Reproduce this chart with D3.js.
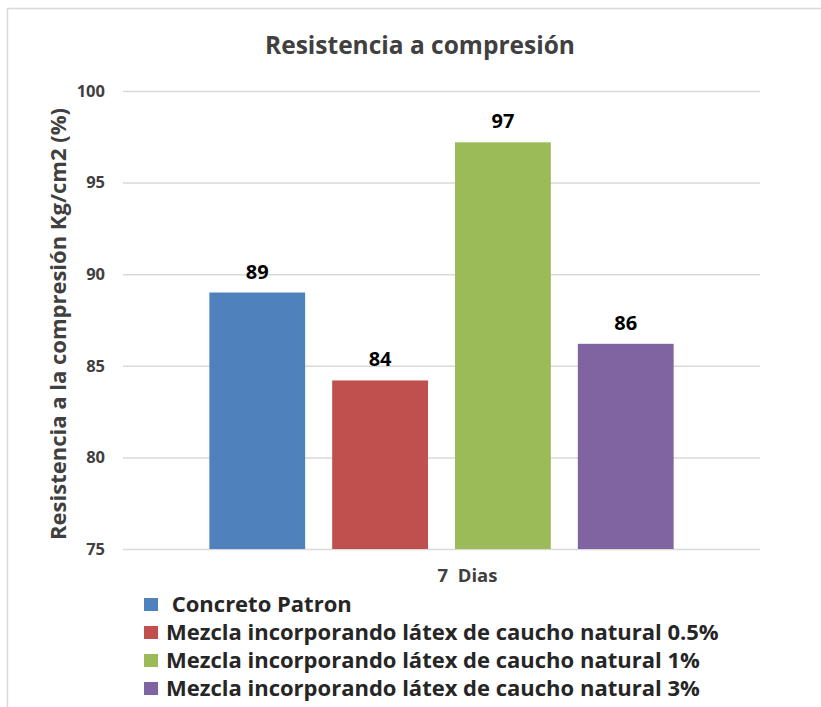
<!DOCTYPE html>
<html>
<head>
<meta charset="utf-8">
<script src="https://cdn.jsdelivr.net/npm/d3@7"></script>
<style>
  body { margin: 0; background: #fff; }
  svg text { font-family: "Open Sans", Lato, sans-serif; }
</style>
</head>
<body>
<div id="chart"></div>
<script>
// data
const categories = ['7  Dias']
const seriesNames = [
  ' Concreto Patron',
  'Mezcla incorporando látex de caucho natural 0.5%',
  'Mezcla incorporando látex de caucho natural 1%',
  'Mezcla incorporando látex de caucho natural 3%'
]
const seriesValues = [89.0, 84.2, 97.2, 86.2]
const seriesLabels = ['89', '84', '97', '86']
const seriesColors = ['#4F81BD', '#C0504D', '#9BBB59', '#8064A2']
const yTicks = [75, 80, 85, 90, 95, 100]

// canvas
const svgWidth = 821
const svgHeight = 707
const margin = { top: 91, right: 61, bottom: 158, left: 123 }
const width = svgWidth - margin.left - margin.right
const height = svgHeight - margin.top - margin.bottom
const font = '"Open Sans", sans-serif'

const svg = d3.select('#chart').append('svg').attr('width', svgWidth).attr('height', svgHeight)

// chart border (cut off at right and bottom)
svg.append('rect').attr('x', 7.5).attr('y', 8.5).attr('width', 900).attr('height', 800)
  .attr('fill', 'none').attr('stroke', '#D9D9D9').attr('stroke-width', 1.5)

// title
svg.append('text').attr('x', 420).attr('y', 54).attr('text-anchor', 'middle')
  .attr('font-size', 24.5).attr('font-weight', 700).attr('fill', '#404040')
  .text('Resistencia a compresión')

const chartGroup = svg.append('g').attr('transform', `translate(${margin.left}, ${margin.top})`)

// scales
const y = d3.scaleLinear().domain([75, 100]).range([height, 0])
const x0 = d3.scaleBand().domain(categories).range([0, width]).paddingInner(0).paddingOuter(0.186)
const x1 = d3.scaleBand().domain(seriesNames).range([0, x0.bandwidth()]).paddingInner(0.22).paddingOuter(0)

// gridlines
const grid = chartGroup.append('g').call(d3.axisLeft(y).tickValues(yTicks).tickSize(-width).tickFormat(''))
grid.select('.domain').remove()
grid.selectAll('line').attr('stroke', '#D9D9D9').attr('stroke-width', 1.5)

// y axis labels
const leftAxis = chartGroup.append('g').call(d3.axisLeft(y).tickValues(yTicks).tickSize(0).tickPadding(18))
leftAxis.select('.domain').remove()
leftAxis.selectAll('text').attr('font-size', 16.5).attr('font-weight', 700).attr('fill', '#404040')
  .attr('font-family', font)

// x axis label (excel draws it a bit right of centre)
const bottomAxis = chartGroup.append('g').attr('transform', `translate(0, ${height})`)
  .call(d3.axisBottom(x0).tickSize(0).tickPadding(20))
bottomAxis.select('.domain').remove()
bottomAxis.selectAll('text').attr('font-size', 18.5).attr('font-weight', 700).attr('fill', '#404040')
  .attr('font-family', font).attr('dx', 26).style('white-space', 'pre')

// bars
const group = chartGroup.selectAll('.cat').data(categories).enter().append('g')
  .attr('transform', d => `translate(${x0(d)}, 0)`)

group.selectAll('rect').data(seriesNames).enter().append('rect')
  .attr('x', d => x1(d))
  .attr('y', (d, i) => y(seriesValues[i]))
  .attr('width', x1.bandwidth())
  .attr('height', (d, i) => height - y(seriesValues[i]))
  .attr('fill', (d, i) => seriesColors[i])

group.selectAll('.lbl').data(seriesNames).enter().append('text')
  .attr('x', d => x1(d) + x1.bandwidth() / 2)
  .attr('y', (d, i) => y(seriesValues[i]) - 14)
  .attr('text-anchor', 'middle').attr('font-size', 20).attr('font-weight', 700).attr('fill', '#000')
  .text((d, i) => seriesLabels[i])

// y axis title
svg.append('text').attr('transform', `translate(66, ${margin.top + height / 2 + 4}) rotate(-90)`)
  .attr('text-anchor', 'middle').attr('font-size', 22).attr('font-weight', 700).attr('fill', '#404040')
  .text('Resistencia a la compresión Kg/cm2 (%)')

// legend
const legend = svg.append('g').attr('transform', 'translate(144, 598)')
const items = legend.selectAll('g').data(seriesNames).enter().append('g')
  .attr('transform', (d, i) => `translate(0, ${i * 28})`)
items.append('rect').attr('width', 14).attr('height', 13).attr('fill', (d, i) => seriesColors[i])
items.append('text').attr('x', 22).attr('y', 14).attr('font-size', 22).attr('font-weight', 700)
  .attr('fill', '#262626').style('white-space', 'pre').text(d => d)
</script>
</body>
</html>
